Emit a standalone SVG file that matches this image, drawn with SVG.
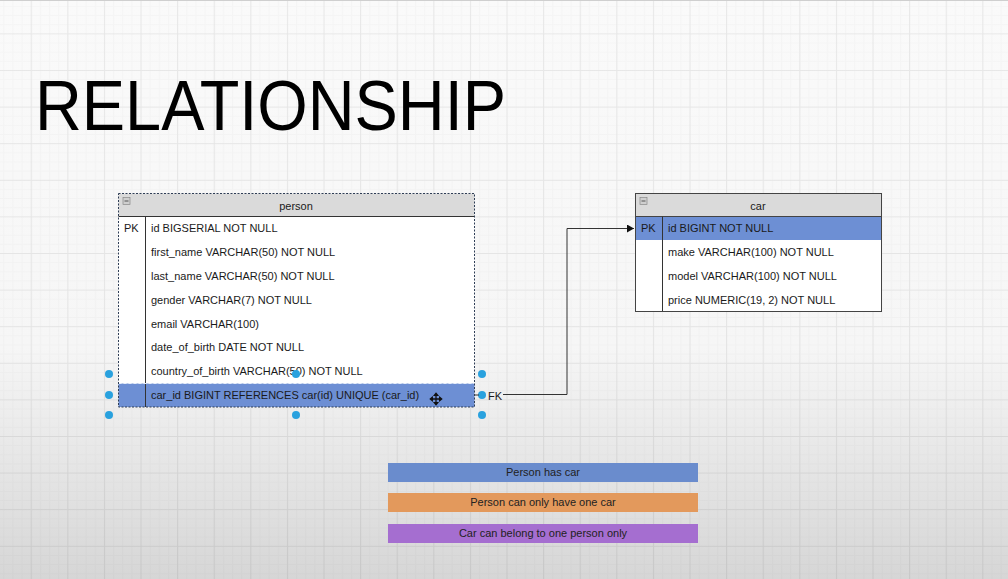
<svg xmlns="http://www.w3.org/2000/svg" width="1008" height="579" viewBox="0 0 1008 579">
<defs>
<linearGradient id="bg" x1="0" y1="0" x2="0" y2="1">
<stop offset="0" stop-color="#fafafa"/>
<stop offset="0.6" stop-color="#f6f6f6"/>
<stop offset="1" stop-color="#d6d6d6"/>
</linearGradient>
<pattern id="minor" patternUnits="userSpaceOnUse" x="30.7" y="33.4" width="9.15" height="9.15">
<path d="M0 0.5H9.15M0.5 0V9.15" stroke="#000" stroke-opacity="0.018" stroke-width="1" fill="none"/>
</pattern>
<pattern id="major" patternUnits="userSpaceOnUse" x="30.7" y="33.4" width="36.6" height="36.6">
<path d="M0 0.5H36.6M0.5 0V36.6" stroke="#000" stroke-opacity="0.055" stroke-width="1" fill="none"/>
</pattern>
<marker id="arr" markerWidth="8" markerHeight="8" refX="7" refY="4" orient="auto" markerUnits="userSpaceOnUse">
<path d="M0 0L7 4L0 8Z" fill="#111"/>
</marker>
<style>
text{font-family:"Liberation Sans",Arial,sans-serif;fill:#1a1a1a}
.row{font-size:11px}
.hdr{font-size:11px;text-anchor:middle}
.head{fill:#dadada;stroke:#444;stroke-width:1}
.box{fill:#fff;stroke:#444;stroke-width:1}
.sel{fill:#6d8fd4}
.ln{stroke:#333;stroke-width:1;fill:none}
.h{fill:#29a1de}
.leg{font-size:11px;text-anchor:middle;fill:#222}
.mini{fill:#cfcfcf;stroke:#888;stroke-width:0.7}
</style>
</defs>
<rect width="1008" height="579" fill="url(#bg)"/>
<rect width="1008" height="579" fill="url(#minor)"/>
<rect width="1008" height="579" fill="url(#major)"/>
<line x1="0" y1="0.5" x2="1008" y2="0.5" stroke="#cfcfcf"/>

<text x="35" y="130" font-size="70" textLength="471" lengthAdjust="spacingAndGlyphs" style="fill:#000">RELATIONSHIP</text>

<g id="person">
<rect x="118.5" y="193.5" width="356" height="213" fill="#fff"/>
<rect x="118.5" y="193.5" width="356" height="23" fill="#dadada"/>
<rect x="118.5" y="383.5" width="356" height="23.5" class="sel"/>
<rect x="123" y="197.5" width="7" height="7" class="mini"/>
<line x1="124.5" y1="201" x2="128.5" y2="201" stroke="#555" stroke-width="1"/>
<line x1="118.5" y1="216.5" x2="474.5" y2="216.5" class="ln"/>
<line x1="145.5" y1="216.5" x2="145.5" y2="407" class="ln"/>
<line x1="118.5" y1="383.5" x2="474.5" y2="383.5" stroke="#e8eefa" stroke-dasharray="3 2"/>
<rect x="118.5" y="193.5" width="356" height="213.5" fill="none" stroke="#2e3d55" stroke-width="1" stroke-dasharray="2 1.5"/>
<text class="hdr" x="296" y="210">person</text>
<text class="row" x="124" y="232">PK</text>
<text class="row" x="151" y="232">id BIGSERIAL NOT NULL</text>
<text class="row" x="151" y="256">first_name VARCHAR(50) NOT NULL</text>
<text class="row" x="151" y="280">last_name VARCHAR(50) NOT NULL</text>
<text class="row" x="151" y="304">gender VARCHAR(7) NOT NULL</text>
<text class="row" x="151" y="328">email VARCHAR(100)</text>
<text class="row" x="151" y="351">date_of_birth DATE NOT NULL</text>
<text class="row" x="151" y="375">country_of_birth VARCHAR(50) NOT NULL</text>
<text class="row" x="151" y="399">car_id BIGINT REFERENCES car(id) UNIQUE (car_id)</text>
</g>

<g id="selection">
<circle class="h" cx="109" cy="374" r="4"/>
<circle class="h" cx="296" cy="374" r="4"/>
<circle class="h" cx="482" cy="374" r="4"/>
<circle class="h" cx="109" cy="395" r="4"/>
<circle class="h" cx="482" cy="395" r="4"/>
<circle class="h" cx="109" cy="415" r="4"/>
<circle class="h" cx="296" cy="415" r="4"/>
<circle class="h" cx="482" cy="415" r="4"/>
<path d="M436 393.5V404.5M430.5 399H441.5M434.3 395.3L436 393.3L437.7 395.3ZM434.3 402.7L436 404.7L437.7 402.7ZM432.3 397.3L430.3 399L432.3 400.7ZM439.7 397.3L441.7 399L439.7 400.7Z" stroke="#111" stroke-width="1.3" fill="#111"/>
</g>

<g id="car">
<rect x="635.5" y="193.5" width="246" height="118" class="box"/>
<rect x="635.5" y="193.5" width="246" height="23" class="head"/>
<rect x="636" y="217" width="245" height="23" class="sel"/>
<rect x="640" y="197.5" width="7" height="7" class="mini"/>
<line x1="641.5" y1="201" x2="645.5" y2="201" stroke="#555" stroke-width="1"/>
<line x1="662.5" y1="216.5" x2="662.5" y2="311.5" class="ln"/>
<rect x="635.5" y="193.5" width="246" height="118" fill="none" stroke="#444"/>
<text class="hdr" x="758" y="210">car</text>
<text class="row" x="641" y="232">PK</text>
<text class="row" x="668" y="232">id BIGINT NOT NULL</text>
<text class="row" x="668" y="256">make VARCHAR(100) NOT NULL</text>
<text class="row" x="668" y="280">model VARCHAR(100) NOT NULL</text>
<text class="row" x="668" y="304">price NUMERIC(19, 2) NOT NULL</text>
</g>

<g id="connectors">
<line x1="475" y1="395" x2="479" y2="395" class="ln"/>
<path d="M503 394.5H567V228.5H634" class="ln" marker-end="url(#arr)"/>
<text x="488" y="400" font-size="11">FK</text>
</g>

<g id="legend-has">
<rect x="388" y="463" width="310" height="19" fill="#6a8ccd"/>
<text class="leg" x="543" y="476">Person has car</text>
</g>
<g id="legend-one">
<rect x="388" y="493" width="310" height="19" fill="#e3995c"/>
<text class="leg" x="543" y="506">Person can only have one car</text>
</g>
<g id="legend-belong">
<rect x="388" y="524" width="310" height="19" fill="#a56ed0"/>
<text class="leg" x="543" y="537">Car can belong to one person only</text>
</g>
</svg>
